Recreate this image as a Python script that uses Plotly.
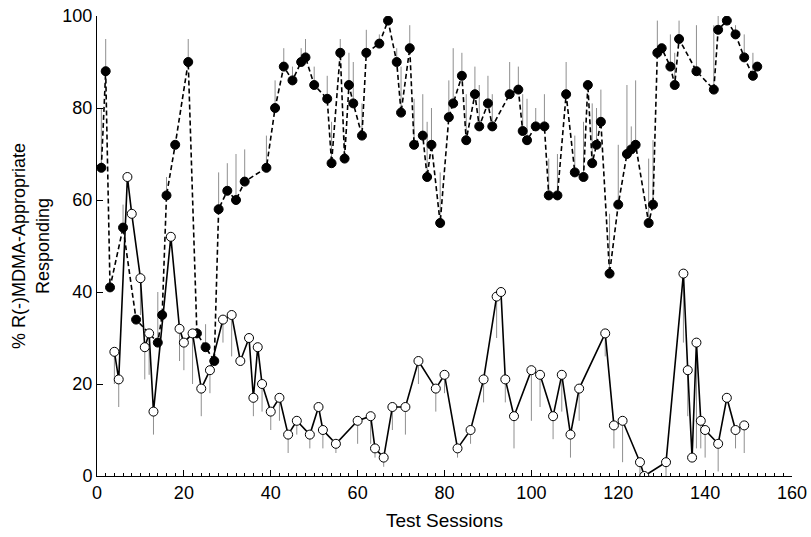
import plotly.graph_objects as go

# Filled (R(-)MDMA training) series: session, % responding, SEM (upward)
filled_x = [1, 2, 3, 6, 9, 14, 15, 16, 18, 21, 23, 25, 27, 28, 30, 32, 34, 39, 41, 43, 45, 47, 48, 50,
            53, 54, 56, 57, 58, 59, 61, 62, 65, 67, 69, 70, 72, 73, 75, 76, 77, 79, 81, 82, 84, 85,
            87, 88, 90, 91, 95, 97, 98, 99, 101, 103, 104, 106, 108, 110, 112, 113, 114, 115, 116,
            118, 120, 122, 123, 124, 127, 128, 129, 130, 132, 133, 134, 138, 142, 143, 145, 147, 149,
            151, 152]
filled_y = [67, 88, 41, 54, 34, 29, 35, 61, 72, 90, 31, 28, 25, 58, 62, 60, 64, 67, 80, 89, 86, 90, 91, 85,
            82, 68, 92, 69, 85, 81, 74, 92, 94, 99, 90, 79, 93, 72, 74, 65, 72, 55, 78, 81, 87, 73,
            83, 76, 81, 76, 83, 84, 75, 73, 76, 76, 61, 61, 83, 66, 65, 85, 68, 72, 77,
            44, 59, 70, 71, 72, 55, 59, 92, 93, 89, 85, 95, 88, 84, 97, 99, 96, 91,
            87, 89]
filled_err = [13, 7, 0, 5, 0, 11, 0, 4, 0, 5, 0, 5, 0, 8, 6, 10, 7, 7, 6, 4, 3, 3, 4, 4,
              5, 9, 3, 5, 7, 9, 7, 5, 2, 0, 3, 10, 5, 10, 9, 12, 8, 11, 8, 12, 5, 10,
              6, 9, 6, 7, 7, 5, 8, 9, 4, 7, 8, 9, 7, 8, 12, 0, 13, 8, 7,
              13, 13, 15, 5, 14, 14, 14, 7, 0, 7, 7, 4, 10, 14, 3, 0, 2, 5,
              5, 0]

# Open series: session, % responding, SEM (downward)
open_x = [4, 5, 7, 8, 10, 11, 12, 13, 17, 19, 20, 22, 24, 26, 29, 31, 33, 35, 36, 37, 38, 40, 42, 44,
          46, 49, 51, 52, 55, 60, 63, 64, 66, 68, 71, 74, 78, 80, 83, 86, 89, 92, 93, 94, 96, 100,
          102, 105, 107, 109, 111, 117, 119, 121, 125, 126, 131, 135, 136, 137, 138, 139, 140, 143,
          145, 147, 149]
open_y = [27, 21, 65, 57, 43, 28, 31, 14, 52, 32, 29, 31, 19, 23, 34, 35, 25, 30, 17, 28, 20, 14, 17, 9,
          12, 9, 15, 10, 7, 12, 13, 6, 4, 15, 15, 25, 19, 22, 6, 10, 21, 39, 40, 21, 13, 23,
          22, 13, 22, 9, 19, 31, 11, 12, 3, 0, 3, 44, 23, 4, 29, 12, 10, 7,
          17, 10, 11]
open_err = [7, 6, 0, 0, 8, 7, 9, 5, 0, 7, 6, 11, 6, 5, 5, 9, 0, 0, 4, 0, 6, 4, 5, 4,
            3, 3, 0, 4, 2, 5, 6, 2, 2, 5, 6, 5, 5, 4, 2, 3, 5, 9, 0, 5, 7, 11,
            7, 5, 8, 5, 7, 5, 5, 9, 3, 0, 3, 15, 10, 0, 23, 6, 6, 6,
            0, 4, 6]

x_ticks = [0, 20, 40, 60, 80, 100, 120, 140, 160]
y_ticks = [0, 20, 40, 60, 80, 100]

FONT = "Liberation Sans, Arial, sans-serif"

fig = go.Figure()
fig.add_trace(go.Scatter(
    x=filled_x, y=filled_y, mode="lines+markers",
    line=dict(color="black", width=1.6, dash="5px,3px"),
    marker=dict(symbol="circle", size=9, color="black", line=dict(color="black", width=1)),
    error_y=dict(type="data", array=filled_err, arrayminus=[0] * len(filled_err), symmetric=False,
                 color="#8f8f8f", thickness=1, width=0),
    showlegend=False,
))
fig.add_trace(go.Scatter(
    x=open_x, y=open_y, mode="lines+markers",
    line=dict(color="black", width=1.6),
    marker=dict(symbol="circle", size=9, color="white", line=dict(color="black", width=1)),
    error_y=dict(type="data", array=[0] * len(open_err), arrayminus=open_err, symmetric=False,
                 color="#8f8f8f", thickness=1, width=0),
    showlegend=False,
))

fig.update_layout(
    width=811, height=537,
    margin=dict(l=97, r=19, t=16, b=61, autoexpand=False),
    paper_bgcolor="white", plot_bgcolor="white",
    font=dict(family=FONT, size=18, color="black"),
    xaxis=dict(
        range=[0, 160], tickvals=x_ticks, ticktext=[str(v) for v in x_ticks],
        ticks="inside", ticklen=6, tickwidth=1, tickcolor="black",
        minor=dict(dtick=2, ticks="inside", ticklen=3, tickwidth=1, tickcolor="black"),
        showline=True, linecolor="black", linewidth=1, showgrid=False, zeroline=False,
        automargin=False,
        title=dict(text="Test Sessions", font=dict(size=19), standoff=12),
        tickfont=dict(size=18),
    ),
    yaxis=dict(
        range=[0, 100], tickvals=y_ticks, ticktext=[str(v) for v in y_ticks],
        ticks="inside", ticklen=6, tickwidth=1, tickcolor="black",
        showline=True, linecolor="black", linewidth=1, showgrid=False, zeroline=False,
        automargin=False,
        title=dict(text="% R(-)MDMA-Appropriate<br>Responding", font=dict(size=18), standoff=8),
        tickfont=dict(size=18),
    ),
)

fig.write_html("out.html")
